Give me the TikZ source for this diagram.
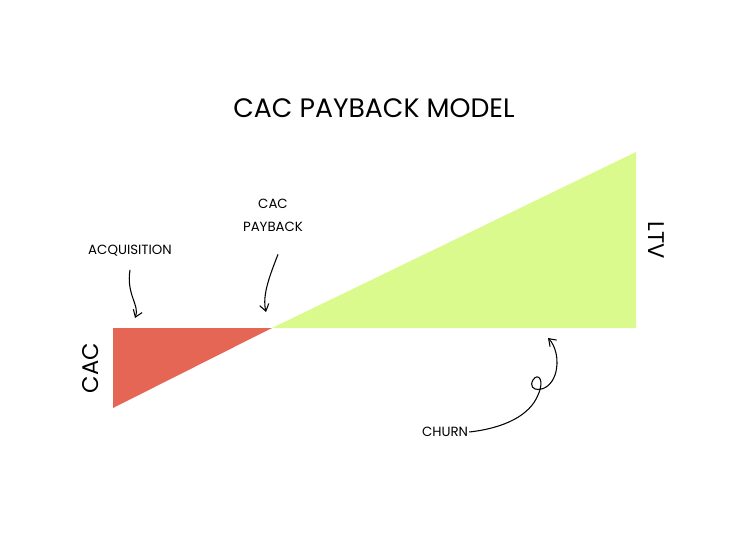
\documentclass[tikz,border=0pt]{standalone}
\usepackage{fontspec}
\setmainfont{Poppins}
\usetikzlibrary{arrows.meta}
\definecolor{cacred}{RGB}{230,102,86}
\definecolor{ltvgreen}{RGB}{219,250,142}
\begin{document}
\begin{tikzpicture}[x=0.75pt,y=0.75pt,yscale=-1,xscale=1,
  lbl/.style={inner sep=0.75pt,font=\fontsize{10}{13}\selectfont},
  side/.style={inner sep=0.75pt,font=\fontsize{17}{20}\selectfont},
  note/.style={-{Straight Barb[length=5pt,width=7pt]},line width=0.8pt}]
        \useasboundingbox (0,0) rectangle (750,536);

        %Shape: CAC triangle
        \fill [cacred] (113,328) -- (272,328) -- (113,408) -- cycle ;
        %Shape: LTV triangle
        \fill [ltvgreen] (272,328) -- (636,328) -- (636,152) -- cycle ;

        % Text Node
        \node [inner sep=0.75pt,font=\fontsize{20}{24}\selectfont] (title) at (374,108) {CAC PAYBACK MODEL};
        % Text Node
        \node [side,rotate=90] (cac) at (91,368) {CAC};
        % Text Node
        \node [side,rotate=-90] (ltv) at (656,240) {LTV};
        % Text Node
        \node [lbl] (acq) at (130,251) {ACQUISITION};
        % Text Node
        \node [lbl,align=center] (payback) at (273,215) {CAC\\[4pt]PAYBACK};
        % Text Node
        \node [lbl] (churn) at (445,432) {CHURN};

        %Curves
        \draw [note] (acq.south) ++(0,12) .. controls (126,295) and (140,305) .. (135,318) ;
        \draw [note] (payback.south) ++(5,22) .. controls (270,275) and (262,295) .. (266,312) ;
        \draw [note] (churn.east) .. controls (505,428) and (530,415) .. (538,395)
              .. controls (545,380) and (538,372) .. (533,380)
              .. controls (526,392) and (548,395) .. (555,375)
              .. controls (560,360) and (555,345) .. (548,338) ;
\end{tikzpicture}
\end{document}
